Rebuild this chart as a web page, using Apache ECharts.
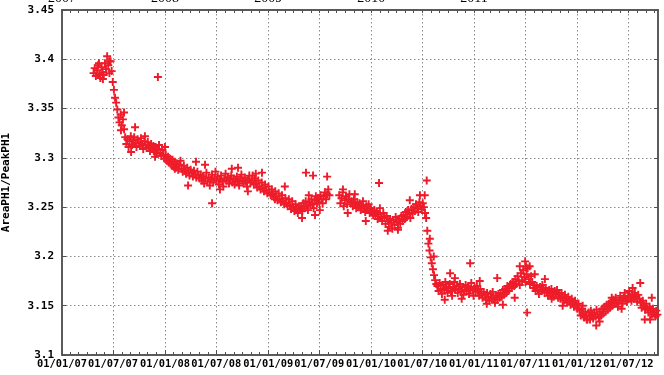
<!DOCTYPE html>
<html>
<head>
<meta charset="utf-8">
<script src="https://cdn.jsdelivr.net/npm/echarts@6/dist/echarts.min.js"></script>
<style>
  html, body { margin: 0; padding: 0; background: #fff; }
  #chart { width: 664px; height: 375px; }
</style>
</head>
<body>
<div id="chart"></div>
<script>
// ---- axis ranges and tick positions ----
const axisStart = '2007-01-01';
const axisEnd = '2012-10-14';
const majorTickDates = [
  '2007-01-01', '2007-07-01', '2008-01-01', '2008-07-01', '2009-01-01', '2009-07-01',
  '2010-01-01', '2010-07-01', '2011-01-01', '2011-07-01', '2012-01-01', '2012-07-01'
];
const yearLabelDates = ['2007-01-01', '2008-01-01', '2009-01-01', '2010-01-01', '2011-01-01'];
const yMin = 3.1;
const yMax = 3.45;
const yStep = 0.05;

// ---- measurements: regular runs sampled every few days ----
const sampleDays = 4;

const run1Start = '2007-04-23';
const run1Values = [
  3.386, 3.391, 3.383, 3.389, 3.394, 3.385, 3.381, 3.392, 3.387, 3.384, 3.396, 3.390, 3.403, 3.394, 3.386, 3.398,
  3.388, 3.377, 3.369, 3.361, 3.356,
  3.349, 3.341, 3.336, 3.344, 3.333, 3.339, 3.329,
  3.321, 3.314, 3.319, 3.311,
  3.317, 3.322, 3.313, 3.318, 3.321, 3.315, 3.311, 3.319, 3.316, 3.312,
  3.320, 3.314, 3.309, 3.317, 3.313, 3.310, 3.316, 3.312, 3.307, 3.314,
  3.309, 3.312, 3.306, 3.311, 3.304, 3.309, 3.313, 3.305, 3.302, 3.308,
  3.303, 3.299,
  3.303, 3.297, 3.301, 3.295, 3.299, 3.293, 3.298, 3.291, 3.296, 3.290,
  3.294, 3.288, 3.293, 3.297, 3.289, 3.286, 3.292, 3.287, 3.284, 3.290,
  3.286, 3.282, 3.288, 3.285, 3.281, 3.287, 3.283, 3.280, 3.286, 3.282, 3.279,
  3.283, 3.277, 3.281, 3.274, 3.279, 3.285, 3.276, 3.280, 3.272, 3.278,
  3.283, 3.275, 3.279, 3.286, 3.277, 3.281, 3.273, 3.278, 3.282, 3.276,
  3.271, 3.279, 3.284, 3.277, 3.280, 3.274, 3.278, 3.282, 3.275, 3.279,
  3.273, 3.277, 3.281, 3.276, 3.272, 3.279, 3.283, 3.277, 3.274, 3.280,
  3.276, 3.271, 3.278, 3.282, 3.275,
  3.277, 3.282, 3.273, 3.279, 3.274, 3.270, 3.277, 3.271, 3.268, 3.275,
  3.269, 3.266, 3.273, 3.267, 3.264, 3.271, 3.265, 3.262, 3.268, 3.263,
  3.260, 3.266, 3.261, 3.257, 3.264, 3.258, 3.255, 3.262, 3.256, 3.253,
  3.259, 3.254, 3.251, 3.258, 3.252, 3.248, 3.256, 3.250, 3.246, 3.253,
  3.249, 3.244, 3.251, 3.247,
  3.251, 3.246, 3.254, 3.249, 3.256, 3.251, 3.247, 3.255, 3.252, 3.258,
  3.253, 3.249, 3.257, 3.261, 3.254, 3.259, 3.255, 3.262, 3.258, 3.254,
  3.261, 3.265, 3.258, 3.263, 3.268, 3.262
];

const run2Start = '2009-09-10';
const run2Values = [
  3.262, 3.254, 3.259, 3.265, 3.251, 3.257, 3.261, 3.253, 3.258, 3.263, 3.255,
  3.256, 3.251, 3.258, 3.253, 3.249, 3.255, 3.250, 3.254, 3.247, 3.252,
  3.256, 3.249, 3.245, 3.251, 3.247, 3.253, 3.244, 3.249, 3.246, 3.242,
  3.247, 3.241, 3.245, 3.238, 3.243, 3.249, 3.240, 3.236, 3.244, 3.239,
  3.233, 3.241, 3.236, 3.230, 3.238, 3.234, 3.228, 3.237, 3.232, 3.240,
  3.235, 3.229, 3.238, 3.233, 3.241,
  3.236, 3.242, 3.238, 3.245, 3.240, 3.247, 3.243, 3.239, 3.248, 3.244,
  3.250, 3.246, 3.253, 3.249, 3.245, 3.255, 3.251, 3.248, 3.254,
  3.250, 3.244, 3.239,
  3.226, 3.213, 3.206, 3.199, 3.193, 3.187, 3.181, 3.176, 3.172,
  3.170, 3.165, 3.173, 3.167, 3.162, 3.171, 3.166, 3.174, 3.168, 3.163,
  3.169, 3.172, 3.165, 3.160, 3.168, 3.174, 3.166, 3.170, 3.163, 3.167,
  3.172, 3.164, 3.169, 3.161, 3.166, 3.171, 3.165, 3.169, 3.162, 3.167,
  3.173, 3.166, 3.160, 3.168, 3.164, 3.170,
  3.165, 3.160, 3.167, 3.162, 3.158, 3.164, 3.161, 3.156, 3.163, 3.159,
  3.155, 3.162, 3.158, 3.164, 3.157, 3.153, 3.160, 3.156, 3.162, 3.158,
  3.163, 3.159, 3.166, 3.161, 3.167, 3.163, 3.170, 3.165, 3.168, 3.172,
  3.168, 3.174, 3.170, 3.177, 3.172, 3.180, 3.175, 3.171, 3.183, 3.176,
  3.186, 3.179, 3.174, 3.182, 3.188, 3.177, 3.172, 3.180,
  3.174, 3.168, 3.171, 3.165, 3.170, 3.166, 3.162, 3.169, 3.165, 3.171,
  3.167, 3.163, 3.168, 3.164, 3.160, 3.166, 3.162, 3.167, 3.163, 3.159,
  3.165, 3.161, 3.166, 3.158, 3.162, 3.157, 3.163, 3.159, 3.155, 3.161,
  3.157, 3.153, 3.159, 3.155, 3.151, 3.157, 3.153, 3.149, 3.155, 3.151,
  3.147, 3.152,
  3.145, 3.140, 3.147, 3.142, 3.138, 3.144, 3.140, 3.136, 3.143, 3.139,
  3.145, 3.141, 3.137, 3.143, 3.139, 3.146, 3.141, 3.138, 3.144, 3.140,
  3.147, 3.142, 3.149, 3.144, 3.151, 3.146, 3.152, 3.148,
  3.154, 3.150, 3.156, 3.152, 3.158, 3.153, 3.149, 3.155, 3.160, 3.156,
  3.152, 3.158, 3.163, 3.157, 3.154, 3.160, 3.165, 3.159, 3.155, 3.161,
  3.157, 3.163, 3.159, 3.154, 3.161, 3.157,
  3.153, 3.148, 3.155, 3.150, 3.146, 3.152, 3.147, 3.143, 3.149, 3.145,
  3.141, 3.147, 3.143, 3.139, 3.145, 3.141, 3.138, 3.144
];

// individual readings off the smooth trend (outliers and noisy days)
const strayDates = [
  '2007-12-07', '2008-06-16', '2008-09-16', '2008-12-10', '2009-05-01', '2009-05-15',
  '2009-06-09', '2009-06-16', '2009-07-29', '2009-09-23', '2010-01-29', '2010-07-17',
  '2010-10-08', '2010-12-18', '2011-03-24', '2011-07-01', '2011-07-04', '2011-07-08',
  '2012-02-16', '2012-03-09', '2012-08-12', '2012-09-16',
  '2007-05-12', '2007-05-26', '2007-06-17', '2007-07-29', '2007-08-09', '2007-09-03',
  '2007-09-17', '2007-10-22', '2007-11-27', '2008-01-01', '2008-02-05', '2008-03-23',
  '2008-04-20', '2008-05-22', '2008-07-14', '2008-08-25', '2008-10-21', '2008-11-18',
  '2009-01-25', '2009-03-01', '2009-04-06', '2009-05-25', '2009-07-03', '2009-10-10',
  '2009-11-04', '2009-12-13', '2010-03-01', '2010-04-06', '2010-05-18', '2010-06-23',
  '2010-07-10', '2010-07-28', '2010-08-11', '2010-09-19', '2010-10-25', '2010-11-18',
  '2011-01-21', '2011-02-15', '2011-04-13', '2011-05-25', '2011-06-12', '2011-07-17',
  '2011-08-04', '2011-09-09', '2011-10-03', '2011-11-11', '2012-01-21', '2012-02-04',
  '2012-03-21', '2012-05-03', '2012-06-07', '2012-07-16', '2012-08-28', '2012-09-22',
  '2012-10-06'
];
const strayValues = [
  3.382, 3.254, 3.290, 3.285, 3.239, 3.285,
  3.282, 3.242, 3.281, 3.268, 3.2745, 3.277,
  3.183, 3.193, 3.178, 3.195, 3.190, 3.143,
  3.136, 3.130, 3.173, 3.136,
  3.396, 3.380, 3.398, 3.328, 3.346, 3.306,
  3.331, 3.322, 3.301, 3.311, 3.289, 3.272,
  3.296, 3.293, 3.268, 3.289, 3.266, 3.284,
  3.258, 3.271, 3.247, 3.262, 3.247, 3.244,
  3.263, 3.236, 3.226, 3.227, 3.257, 3.262,
  3.262, 3.218, 3.200, 3.156, 3.178, 3.157,
  3.175, 3.152, 3.151, 3.158, 3.190, 3.190,
  3.182, 3.177, 3.157, 3.150, 3.150, 3.136,
  3.134, 3.158, 3.147, 3.168, 3.136, 3.158,
  3.140
];

// ---- helpers ----
const DAY = 86400000;
function utc(s) {
  const p = s.split('-').map(Number);
  return Date.UTC(p[0], p[1] - 1, p[2]);
}
function runPoints(start, values) {
  const t0 = utc(start);
  return values.map((v, i) => [t0 + i * sampleDays * DAY, v]);
}
function pad(n) { return (n < 10 ? '0' : '') + n; }
function fmtDate(t) {
  const d = new Date(t);
  return pad(d.getUTCDate()) + '/' + pad(d.getUTCMonth() + 1) + '/' + pad(d.getUTCFullYear() % 100);
}

const monthTicks = [];
for (let y = 2007; y <= 2012; y++) {
  for (let m = 0; m < 12; m++) {
    const t = Date.UTC(y, m, 1);
    if (t <= utc(axisEnd)) monthTicks.push(t);
  }
}
const majorTicks = majorTickDates.map(utc);
const yearTicks = yearLabelDates.map(utc);

const points = runPoints(run1Start, run1Values)
  .concat(runPoints(run2Start, run2Values))
  .concat(strayDates.map((d, i) => [utc(d), strayValues[i]]));

const axisColor = '#505050';
const gridLine = { show: true, lineStyle: { color: '#8a8a8a', width: 1, type: [1.5, 2.5] } };
const monoBold = { fontFamily: 'DejaVu Sans Mono', fontWeight: 'bold', fontSize: 11, color: '#000' };

const xBase = { type: 'value', min: utc(axisStart), max: utc(axisEnd), gridIndex: 0 };

const chart = echarts.init(document.getElementById('chart'), null, { renderer: 'canvas' });
chart.setOption({
  animation: false,
  backgroundColor: '#fff',
  grid: {
    left: 62, right: 6, top: 10, bottom: 20,
    outerBoundsMode: 'none', containLabel: false,
    show: true, borderColor: axisColor, borderWidth: 1.5, backgroundColor: 'transparent'
  },
  xAxis: [
    Object.assign({}, xBase, {
      position: 'bottom',
      axisLine: { show: true, lineStyle: { color: axisColor, width: 1.5 } },
      axisTick: { show: true, inside: true, length: 5, customValues: majorTicks, lineStyle: { color: axisColor } },
      axisLabel: Object.assign({}, monoBold, {
        show: true, margin: 4, customValues: majorTicks, formatter: fmtDate,
        showMinLabel: true, showMaxLabel: true, hideOverlap: false, fontSize: 10.4
      }),
      splitLine: gridLine
    }),
    Object.assign({}, xBase, {
      position: 'bottom',
      axisLine: { show: false },
      axisTick: { show: true, inside: true, length: 3, customValues: monthTicks, lineStyle: { color: axisColor } },
      axisLabel: { show: false },
      splitLine: { show: false }
    }),
    Object.assign({}, xBase, {
      position: 'top',
      axisLine: { show: true, lineStyle: { color: axisColor, width: 1.5 } },
      axisTick: { show: true, inside: true, length: 3, customValues: monthTicks, lineStyle: { color: axisColor } },
      axisLabel: {
        show: true, margin: 5, customValues: yearTicks,
        showMinLabel: true, showMaxLabel: true, hideOverlap: false,
        formatter: t => String(new Date(t).getUTCFullYear()),
        fontFamily: 'Liberation Serif', fontSize: 14, color: '#000'
      },
      splitLine: { show: false }
    })
  ],
  yAxis: [
    {
      type: 'value', position: 'left', min: yMin, max: yMax, interval: yStep,
      name: 'AreaPH1/PeakPH1', nameLocation: 'middle', nameGap: 50, nameRotate: 90,
      nameTextStyle: Object.assign({}, monoBold),
      axisLine: { show: true, lineStyle: { color: axisColor, width: 1.5 } },
      axisTick: { show: true, inside: true, length: 4, lineStyle: { color: axisColor } },
      axisLabel: Object.assign({ margin: 8, showMinLabel: true, showMaxLabel: true, formatter: v => String(+v.toFixed(2)) }, monoBold),
      splitLine: gridLine
    },
    {
      type: 'value', position: 'right', min: yMin, max: yMax, interval: yStep,
      axisLine: { show: true, lineStyle: { color: axisColor, width: 1.5 } },
      axisTick: { show: true, inside: true, length: 4, lineStyle: { color: axisColor } },
      axisLabel: { show: false },
      splitLine: { show: false }
    }
  ],
  series: [{
    type: 'scatter',
    xAxisIndex: 0,
    yAxisIndex: 0,
    symbol: 'path://M-1,-0.24H1V0.24H-1Z M-0.24,-1H0.24V1H-0.24Z',
    symbolSize: 8,
    itemStyle: { color: '#ee1c2a', opacity: 1 },
    data: points
  }]
});
</script>
</body>
</html>
